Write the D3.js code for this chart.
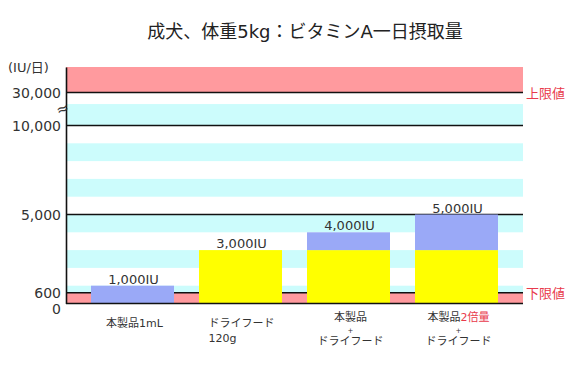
<!DOCTYPE html>
<html><head><meta charset="utf-8">
<script src="https://cdn.jsdelivr.net/npm/d3@7/dist/d3.min.js"></script>
<style>
body{margin:0;background:#fff;}
svg{display:block;font-family:"DejaVu Sans","Noto Sans CJK JP",sans-serif;}
</style></head>
<body><svg id="c" width="580" height="365"></svg>
<script>
// ---- data ----
const categories = ["本製品1mL", "ドライフード120g", "本製品+ドライフード", "本製品2倍量+ドライフード"];
const dryFoodIU = [0, 3000, 3000, 3000];
const productIU = [1000, 0, 1000, 2000];
const yTickValues = [0, 600, 5000, 10000, 30000];
const gridLineValues = [600, 5000, 10000, 30000];
const stripeBands = [[0, 1000], [2000, 3000], [4000, 5000], [6000, 7000], [8000, 9000], [10000, 23000]];
const limitBands = [[0, 600], [30000, 45000]];
const limitLabels = [{v: 30000, t: "上限値"}, {v: 600, t: "下限値"}];
const categoryLines = [
  [[{t: "本製品1mL"}]],
  [[{t: "ドライフード"}], [{t: "120g"}]],
  [[{t: "本製品"}], [{t: "+"}], [{t: "ドライフード"}]],
  [[{t: "本製品"}, {t: "2倍量", red: true}], [{t: "+"}], [{t: "ドライフード"}]]
];
const title = "成犬、体重5kg：ビタミンA一日摂取量";
const unitLabel = "(IU/日)";

// ---- layout ----
const svg = d3.select("#c");
const left = 66, right = 523;
const x = d3.scaleBand().domain(categories).range([left, right]).paddingInner(0.2315).paddingOuter(0.2315);
const y = d3.scaleLinear().domain([0, 10000, 30000, 45000]).range([303.5, 125.5, 92.5, 67]);

const colors = {pink: "#ff9a9e", cyan: "#ccfcfc", blue: "#9aa9f7", yellow: "#ffff00", red: "#e83a4c", text: "#333"};

// stripes
svg.append("g").selectAll("rect").data(stripeBands).join("rect")
  .attr("x", left).attr("width", right - left)
  .attr("y", d => y(d[1])).attr("height", d => y(d[0]) - y(d[1]))
  .attr("fill", colors.cyan);
// limit bands
svg.append("g").selectAll("rect").data(limitBands).join("rect")
  .attr("x", left).attr("width", right - left)
  .attr("y", d => y(d[1])).attr("height", d => y(d[0]) - y(d[1]))
  .attr("fill", colors.pink);
// grid lines
svg.append("g").selectAll("line").data(gridLineValues).join("line")
  .attr("x1", left).attr("x2", right)
  .attr("y1", d => y(d)).attr("y2", d => y(d))
  .attr("stroke", "#111").attr("stroke-width", 1.6);

// stacked bars
const rows = categories.map((c, i) => ({cat: c, food: dryFoodIU[i], product: productIU[i]}));
const stack = d3.stack().keys(["food", "product"])(rows);
const fills = {food: colors.yellow, product: colors.blue};
svg.append("g").selectAll("g").data(stack).join("g")
  .attr("fill", s => fills[s.key])
  .selectAll("rect").data(s => s).join("rect")
  .attr("x", d => x(d.data.cat)).attr("width", x.bandwidth())
  .attr("y", d => y(d[1])).attr("height", d => y(d[0]) - y(d[1]));

// value labels
const fmt = d3.format(",");
svg.append("g").selectAll("text").data(rows).join("text")
  .attr("x", d => x(d.cat) + x.bandwidth() / 2 + 1)
  .attr("y", d => y(d.food + d.product) - 2)
  .attr("text-anchor", "middle").attr("font-size", 13).attr("fill", colors.text)
  .text(d => fmt(d.food + d.product) + "IU");

// bottom line
svg.append("line").attr("x1", left).attr("x2", right).attr("y1", y(0)).attr("y2", y(0))
  .attr("stroke", "#111").attr("stroke-width", 1.6);

// y axis
const ax = svg.append("g").attr("transform", `translate(${left},0)`)
  .call(d3.axisLeft(y).tickValues(yTickValues).tickSize(0).tickSizeOuter(0).tickPadding(5).tickFormat(fmt));
ax.select(".domain").attr("stroke", "#111").attr("stroke-width", 1.6);
ax.selectAll("text").attr("font-size", 14).attr("fill", colors.text)
  .attr("font-family", "'DejaVu Sans',sans-serif")
  .attr("dy", d => d === 0 ? "0.7em" : d === 600 ? "0.3em" : "0.36em");

// break mark
svg.append("text").attr("x", 62).attr("y", 114).attr("text-anchor", "middle")
  .attr("font-size", 15).attr("fill", colors.text).text("≈")
  .attr("transform", "rotate(-20,62,108)");

// unit label
svg.append("text").attr("x", 8).attr("y", 72).attr("font-size", 13).attr("fill", colors.text).text(unitLabel);

// limit labels
svg.append("g").selectAll("text").data(limitLabels).join("text")
  .attr("x", right + 3).attr("y", d => y(d.v) + 5)
  .attr("font-size", 13).attr("fill", colors.red).text(d => d.t);

// category labels
const cg = svg.append("g").attr("fill", colors.text);
categoryLines.forEach((lines, i) => {
  const cx = x(categories[i]) + x.bandwidth() / 2;
  let ys, anchor = "middle", tx = cx + 2;
  if (lines.length === 1) ys = [327];
  else if (lines.length === 2) { ys = [327, 342]; anchor = "start"; tx = cx - 32; }
  else ys = [321, 333, 345];
  lines.forEach((segs, j) => {
    const isPlus = segs.length === 1 && segs[0].t === "+";
    const t = cg.append("text").attr("x", tx).attr("y", ys[j]).attr("text-anchor", anchor)
      .attr("font-size", isPlus ? 7 : 11);
    segs.forEach(s => t.append("tspan").attr("fill", s.red ? colors.red : colors.text).text(s.t));
  });
});

// title
svg.append("text").attr("x", 305).attr("y", 38).attr("text-anchor", "middle")
  .attr("font-size", 18).attr("fill", "#222").text(title);
</script></body></html>
